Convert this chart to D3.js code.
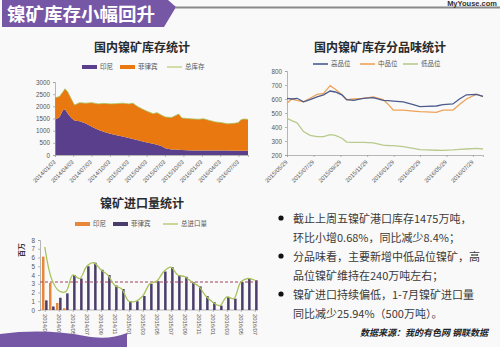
<!DOCTYPE html>
<html><head><meta charset="utf-8">
<script src="https://cdn.jsdelivr.net/npm/d3@7"></script>
<style>
html,body{margin:0;padding:0;background:#f9f9f9;}
svg{display:block;font-family:"Noto Sans CJK SC","Noto Sans",sans-serif;}
</style></head><body>
<svg id="c" width="500" height="347"></svg>
<script>
// ---- 国内镍矿库存 (万吨) ----
const stockDates = ["2014-01-03","2014-01-25","2014-02-12","2014-02-22","2014-03-08","2014-03-25","2014-04-10","2014-05-05","2014-06-05","2014-07-05","2014-08-05","2014-09-05","2014-10-05","2014-11-05","2014-12-05","2015-01-05","2015-01-25","2015-02-15","2015-03-10","2015-04-05","2015-05-05","2015-05-25","2015-06-15","2015-07-05","2015-08-05","2015-08-25","2015-09-10","2015-09-25","2015-10-20","2015-11-20","2015-12-20","2016-01-10","2016-02-10","2016-03-10","2016-04-10","2016-05-10","2016-06-10","2016-07-01","2016-07-15","2016-08-01","2016-08-19"];
const stockIndonesia = [1450,1550,1850,1880,1700,1520,1420,1390,1290,1160,1040,950,870,810,760,700,660,620,570,510,460,420,370,280,230,230,220,210,200,190,190,190,185,180,180,180,175,175,175,175,175];
const stockPhilippines = [900,850,750,840,880,780,630,760,840,990,1060,1170,1230,1300,1370,1400,1470,1380,1330,1290,1240,1320,1270,1280,1310,1390,1460,1310,1300,1290,1280,1300,1235,1180,1150,1100,1125,1155,1275,1305,1285];
const stockTicks = ["2014-01-03","2014-04-03","2014-07-03","2014-10-03","2015-01-03","2015-04-03","2015-07-03","2015-10-03","2016-01-03","2016-04-03","2016-07-03"];
const stockYTicks = [0,500,1000,1500,2000,2500,3000];

// ---- 分品味库存 ----
const gradeDates = ["2015-05-29","2015-06-09","2015-06-21","2015-07-06","2015-07-21","2015-08-06","2015-08-21","2015-09-05","2015-09-17","2015-10-02","2015-10-13","2015-10-29","2015-11-20","2015-12-13","2016-01-05","2016-01-17","2016-01-28","2016-02-20","2016-03-14","2016-03-29","2016-04-13","2016-05-06","2016-05-21","2016-06-13","2016-06-28","2016-07-14","2016-08-06","2016-08-21"];
const gradeHigh = [605,600,605,580,595,615,630,657,650,630,595,590,605,610,590,588,585,580,560,545,548,550,560,565,600,630,633,618];
const gradeMid  = [570,600,590,580,605,633,640,695,670,630,595,600,605,615,595,560,521,521,514,510,508,505,521,521,560,600,635,617];
const gradeLow  = [462,445,430,367,340,331,331,345,340,320,292,290,290,286,271,268,267,260,248,238,236,234,233,236,240,243,248,243];
const gradeTicks = ["2015-05-29","2015-07-29","2015-09-29","2015-11-29","2016-01-29","2016-03-29","2016-05-29","2016-07-29"];
const gradeYTicks = [200,300,400,500,600,700,800];

// ---- 镍矿进口量 (百万吨) ----
const importMonths = ["2014/01","2014/02","2014/03","2014/04","2014/05","2014/06","2014/07","2014/08","2014/09","2014/10","2014/11","2014/12","2015/01","2015/02","2015/03","2015/04","2015/05","2015/06","2015/07","2015/08","2015/09","2015/10","2015/11","2015/12","2016/01","2016/02","2016/03","2016/04","2016/05","2016/06","2016/07"];
const importIndonesia = [6.1,3.1,0.8,0.2,0,0,0,0,0,0,0,0,0,0,0,0,0,0,0,0,0,0,0,0,0,0,0,0,0,0,0];
const importPhilippines = [1.1,0.4,1.4,1.9,4.0,3.6,5.0,5.4,4.6,4.0,2.8,2.4,1.0,1.0,1.6,3.0,3.3,4.4,4.9,4.0,3.8,3.2,2.7,1.6,0.9,0.5,1.5,1.3,3.2,3.6,3.4];
const importAverage = 3.2;
const importYTicks = [0,1,2,3,4,5,6,7,8];

const notes = [
  ["截止上周五镍矿港口库存1475万吨，","环比小增0.68%，同比减少8.4%；"],
  ["分品味看，主要新增中低品位镍矿，高","品位镍矿维持在240万吨左右；"],
  ["镍矿进口持续偏低，1-7月镍矿进口量","同比减少25.94%（500万吨）。"]
];

const C = {purple:"#5a3f8c", orange:"#e8780f", green:"#a8c25a", banner:"#7657a6",
           navy:"#4a5b8c", midOrange:"#f0a257", lightGreen:"#b7cb8c",
           barOrange:"#e8873a", barPurple:"#4a3d6b", dash:"#a2445a", text:"#333", axis:"#555"};

const svg = d3.select("#c");
const parse = d3.timeParse("%Y-%m-%d");

// ---- header ----
svg.append("path").attr("d","M2,0 L168,0 L176,7 L164,27 L2,27 Z").attr("fill",C.banner);
svg.append("text").attr("x",7).attr("y",21).attr("fill","#fff").attr("font-size",18.5)
  .attr("font-weight","bold").text("镍矿库存小幅回升");
svg.append("line").attr("x1",175).attr("x2",500).attr("y1",7.5).attr("y2",7.5)
  .attr("stroke","#8a8a8a").attr("stroke-width",1.8);
svg.append("text").attr("x",497).attr("y",5.6).attr("text-anchor","end").attr("font-size",7.5)
  .attr("font-weight","bold").attr("fill","#333").attr("font-family","Liberation Sans, Arial").text("MyYouse.com");

function title(x, y, t){
  svg.append("text").attr("x",x).attr("y",y).attr("text-anchor","middle").attr("font-size",12)
    .attr("font-weight","bold").attr("fill","#2a2a2a").text(t);
}
function legend(items, y){
  items.forEach(it=>{
    if(it.type==="rect"){
      svg.append("rect").attr("x",it.x).attr("y",y-2).attr("width",15).attr("height",4).attr("fill",it.color);
    } else {
      svg.append("line").attr("x1",it.x).attr("x2",it.x+15).attr("y1",y).attr("y2",y)
        .attr("stroke",it.color).attr("stroke-width",it.w||1.2);
    }
    svg.append("text").attr("x",it.x+18).attr("y",y).attr("dy","0.35em").attr("font-size",6.5)
      .attr("fill","#555").text(it.label);
  });
}
function styleAxis(g){
  g.selectAll("path,line").attr("stroke","#9a9a9a").attr("stroke-width",0.7);
  g.selectAll("text").attr("fill",C.axis).attr("font-size",6.3).attr("font-family","Liberation Sans, Arial");
}

// ---- chart 1: 国内镍矿库存统计 ----
title(142, 52, "国内镍矿库存统计");
legend([{type:"rect",x:82,color:C.purple,label:"印尼"},
        {type:"rect",x:120,color:C.orange,label:"菲律宾"},
        {type:"line",x:167,color:C.green,label:"总库存",w:1}], 67);
const x1 = d3.scaleTime().domain([parse("2014-01-03"), parse("2016-08-19")]).range([55,248]);
const y1 = d3.scaleLinear().domain([0,3000]).range([155,82]);
const rows1 = stockDates.map((d,i)=>({date:parse(d), indo:stockIndonesia[i], phil:stockPhilippines[i]}));
const stacked = d3.stack().keys(["indo","phil"])(rows1);
const area1 = d3.area().x(d=>x1(d.data.date)).y0(d=>y1(d[0])).y1(d=>y1(d[1]));
svg.append("g").selectAll("path").data(stacked).join("path")
  .attr("d",area1).attr("fill",(d,i)=>i===0?C.purple:C.orange);
svg.append("path").datum(rows1).attr("fill","none").attr("stroke",C.green).attr("stroke-width",0.8)
  .attr("d",d3.line().x(d=>x1(d.date)).y(d=>y1(d.indo+d.phil)));
const gy1 = svg.append("g").attr("transform","translate(55,0)")
  .call(d3.axisLeft(y1).tickValues(stockYTicks).tickFormat(d3.format("d")).tickSize(2).tickPadding(3));
styleAxis(gy1);
const gx1 = svg.append("g").attr("transform","translate(0,155)")
  .call(d3.axisBottom(x1).tickValues(stockTicks.map(parse)).tickFormat(d3.timeFormat("%Y/%m/%d")).tickSize(2));
styleAxis(gx1);
gx1.selectAll("text").attr("text-anchor","end").attr("x",0).attr("y",0).attr("dy","0.35em")
  .attr("transform","translate(-1,6) rotate(-45)").attr("font-size",5.8);

// ---- chart 2: 国内镍矿库存分品味统计 ----
title(380, 52, "国内镍矿库存分品味统计");
legend([{type:"line",x:313,color:C.navy,label:"高品位",w:1.6},
        {type:"line",x:360,color:C.midOrange,label:"中品位",w:1.6},
        {type:"line",x:403,color:C.lightGreen,label:"低品位",w:1.6}], 64);
const x2 = d3.scaleTime().domain([parse("2015-05-29"), parse("2016-08-21")]).range([287,483]);
const y2 = d3.scaleLinear().domain([200,800]).range([155,71]);
const gy2 = svg.append("g").attr("transform","translate(287,0)")
  .call(d3.axisLeft(y2).tickValues(gradeYTicks).tickSize(2).tickPadding(3));
styleAxis(gy2);
const gx2 = svg.append("g").attr("transform","translate(0,155)")
  .call(d3.axisBottom(x2).tickValues(gradeTicks.map(parse)).tickFormat(d3.timeFormat("%Y/%m/%d")).tickSize(2));
styleAxis(gx2);
gx2.selectAll("text").attr("text-anchor","end").attr("x",0).attr("y",0).attr("dy","0.35em")
  .attr("transform","translate(-1,6) rotate(-45)").attr("font-size",5.8);
const line2 = d3.line().x(d=>x2(d[0])).y(d=>y2(d[1]));
[[gradeLow,C.lightGreen],[gradeMid,C.midOrange],[gradeHigh,C.navy]].forEach(([vals,col])=>{
  svg.append("path").datum(gradeDates.map((d,i)=>[parse(d),vals[i]]))
    .attr("fill","none").attr("stroke",col).attr("stroke-width",1.3).attr("d",line2);
});

// ---- chart 3: 镍矿进口量统计 ----
title(142, 208, "镍矿进口量统计");
legend([{type:"rect",x:75,color:C.barOrange,label:"印尼"},
        {type:"rect",x:113,color:C.barPurple,label:"菲律宾"},
        {type:"line",x:163,color:C.green,label:"总进口量",w:1.2}], 224);
const x3 = d3.scalePoint().domain(importMonths).range([44.8,254.8]);
const inner = d3.scaleBand().domain(["indo","phil"]).range([-2.8,2.8]).paddingInner(0.2);
const y3 = d3.scaleLinear().domain([0,8]).range([310,240]);
const rows3 = importMonths.map((m,i)=>({m, indo:importIndonesia[i], phil:importPhilippines[i]}));
const gy3 = svg.append("g").attr("transform","translate(40,0)")
  .call(d3.axisLeft(y3).tickValues(importYTicks).tickSize(2).tickPadding(3));
styleAxis(gy3);
const gx3 = svg.append("g").attr("transform","translate(0,310)")
  .call(d3.axisBottom(x3).tickValues(importMonths.filter((d,i)=>i%2===0)).tickSize(2));
gx3.select(".domain").attr("d","M40,0H258");
styleAxis(gx3);
gx3.selectAll("text").attr("text-anchor","start").attr("x",0).attr("y",0).attr("dy","0.35em")
  .attr("transform","translate(0,4) rotate(90)").attr("font-size",5.8);
svg.append("text").attr("transform","translate(24,250) rotate(-90)").attr("text-anchor","middle")
  .attr("font-size",7).attr("font-weight","bold").attr("fill","#333").text("百万");
const bars = svg.append("g");
["indo","phil"].forEach(k=>{
  bars.selectAll(null).data(rows3.filter(r=>r[k]>0)).join("rect")
    .attr("x",r=>x3(r.m)+inner(k)).attr("width",inner.bandwidth())
    .attr("y",r=>y3(r[k])).attr("height",r=>y3(0)-y3(r[k]))
    .attr("fill",k==="indo"?C.barOrange:C.barPurple);
});
svg.append("line").attr("x1",40).attr("x2",258).attr("y1",y3(importAverage)).attr("y2",y3(importAverage))
  .attr("stroke",C.dash).attr("stroke-width",1).attr("stroke-dasharray","3,2");
svg.append("path").datum(rows3).attr("fill","none").attr("stroke",C.green).attr("stroke-width",1.3)
  .attr("d",d3.line().x(r=>x3(r.m)).y(r=>y3(r.indo+r.phil)).curve(d3.curveCatmullRom.alpha(0.5)));

// decorative band, lower left
svg.append("path").attr("d","M0,334 C30,330 60,331 85,336 C100,339 115,338 127,333 L127,347 L0,347 Z")
  .attr("fill",C.banner);

// ---- notes ----
const notesG = svg.append("g");
notes.forEach((pair,i)=>{
  const y0 = 219 + i*38;
  notesG.append("circle").attr("cx",281).attr("cy",y0-1).attr("r",2.6).attr("fill","#111");
  pair.forEach((t,j)=>{
    notesG.append("text").attr("x",293).attr("y",y0+j*19).attr("dy","0.35em").attr("font-size",11)
      .attr("fill","#3a3a3a").text(t);
  });
});
svg.append("text").attr("x",488).attr("y",333).attr("dy","0.35em").attr("text-anchor","end")
  .attr("font-size",9).attr("font-weight","bold").attr("font-style","italic").attr("fill","#222")
  .text("数据来源：我的有色网 钢联数据");
</script>
</body></html>
